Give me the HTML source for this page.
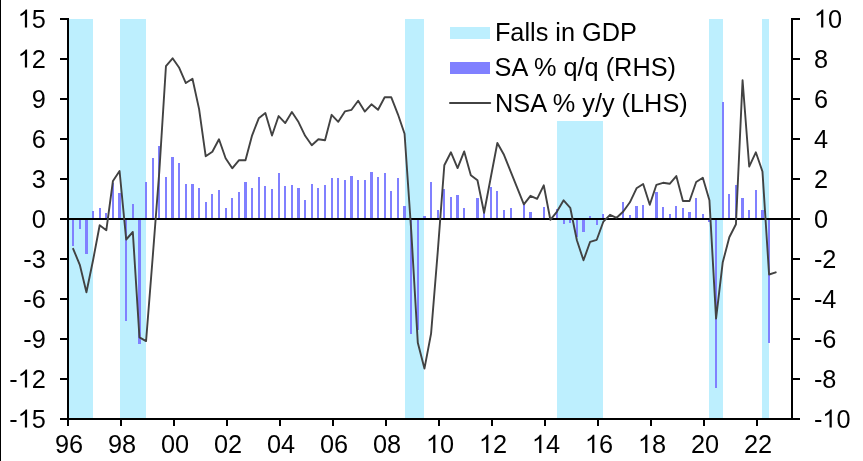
<!DOCTYPE html>
<html><head><meta charset="utf-8"><title>chart</title>
<style>
html,body{margin:0;padding:0;background:#fff;}
body{width:863px;height:461px;overflow:hidden;}
svg{display:block;will-change:transform;}
text{font-family:"Liberation Sans",sans-serif;font-size:25.3px;fill:#000;}
</style></head><body>
<svg width="863" height="461" viewBox="0 0 863 461">
<rect x="0" y="0" width="863" height="461" fill="#fff"/>
<g fill="#bdeffe" shape-rendering="crispEdges">
<rect x="69" y="19" width="24" height="400"/>
<rect x="120" y="19" width="26" height="400"/>
<rect x="405" y="19" width="19" height="400"/>
<rect x="557" y="121" width="46" height="298"/>
<rect x="709" y="19" width="14" height="400"/>
<rect x="762" y="19" width="7" height="400"/>
</g>
<g fill="#8080ff" shape-rendering="crispEdges">
<rect x="72" y="219" width="2" height="27"/>
<rect x="79" y="219" width="2" height="10"/>
<rect x="85" y="219" width="3" height="35"/>
<rect x="92" y="211" width="2" height="8"/>
<rect x="99" y="208" width="2" height="11"/>
<rect x="105" y="213" width="2" height="6"/>
<rect x="112" y="183" width="2" height="36"/>
<rect x="118" y="193" width="3" height="26"/>
<rect x="125" y="219" width="2" height="102"/>
<rect x="132" y="204" width="2" height="15"/>
<rect x="138" y="219" width="3" height="125"/>
<rect x="145" y="182" width="2" height="37"/>
<rect x="152" y="158" width="2" height="61"/>
<rect x="158" y="146" width="2" height="73"/>
<rect x="165" y="177" width="2" height="42"/>
<rect x="171" y="157" width="3" height="62"/>
<rect x="178" y="163" width="2" height="56"/>
<rect x="185" y="184" width="2" height="35"/>
<rect x="191" y="184" width="3" height="35"/>
<rect x="198" y="188" width="2" height="31"/>
<rect x="205" y="202" width="2" height="17"/>
<rect x="211" y="194" width="2" height="25"/>
<rect x="218" y="190" width="2" height="29"/>
<rect x="225" y="208" width="2" height="11"/>
<rect x="231" y="198" width="2" height="21"/>
<rect x="238" y="192" width="2" height="27"/>
<rect x="244" y="182" width="3" height="37"/>
<rect x="251" y="188" width="2" height="31"/>
<rect x="258" y="177" width="2" height="42"/>
<rect x="264" y="186" width="2" height="33"/>
<rect x="271" y="189" width="2" height="30"/>
<rect x="278" y="173" width="2" height="46"/>
<rect x="284" y="186" width="2" height="33"/>
<rect x="291" y="185" width="2" height="34"/>
<rect x="297" y="188" width="3" height="31"/>
<rect x="304" y="200" width="2" height="19"/>
<rect x="311" y="184" width="2" height="35"/>
<rect x="317" y="188" width="2" height="31"/>
<rect x="324" y="185" width="2" height="34"/>
<rect x="331" y="178" width="2" height="41"/>
<rect x="337" y="178" width="2" height="41"/>
<rect x="344" y="180" width="2" height="39"/>
<rect x="350" y="176" width="3" height="43"/>
<rect x="357" y="180" width="2" height="39"/>
<rect x="364" y="180" width="2" height="39"/>
<rect x="370" y="172" width="3" height="47"/>
<rect x="377" y="177" width="2" height="42"/>
<rect x="384" y="173" width="2" height="46"/>
<rect x="390" y="191" width="2" height="28"/>
<rect x="397" y="178" width="2" height="41"/>
<rect x="403" y="206" width="3" height="13"/>
<rect x="410" y="219" width="2" height="115"/>
<rect x="417" y="219" width="2" height="111"/>
<rect x="423" y="216" width="3" height="3"/>
<rect x="430" y="182" width="2" height="37"/>
<rect x="437" y="210" width="2" height="9"/>
<rect x="443" y="189" width="2" height="30"/>
<rect x="450" y="197" width="2" height="22"/>
<rect x="456" y="195" width="3" height="24"/>
<rect x="463" y="208" width="2" height="11"/>
<rect x="476" y="198" width="3" height="21"/>
<rect x="483" y="212" width="2" height="7"/>
<rect x="490" y="187" width="2" height="32"/>
<rect x="496" y="191" width="2" height="28"/>
<rect x="503" y="210" width="2" height="9"/>
<rect x="510" y="208" width="2" height="11"/>
<rect x="523" y="204" width="2" height="15"/>
<rect x="529" y="212" width="3" height="7"/>
<rect x="543" y="207" width="2" height="12"/>
<rect x="556" y="209" width="2" height="10"/>
<rect x="563" y="219" width="2" height="5"/>
<rect x="569" y="219" width="2" height="4"/>
<rect x="576" y="219" width="2" height="18"/>
<rect x="582" y="219" width="3" height="13"/>
<rect x="589" y="216" width="2" height="3"/>
<rect x="596" y="219" width="2" height="6"/>
<rect x="602" y="214" width="2" height="5"/>
<rect x="622" y="202" width="2" height="17"/>
<rect x="629" y="215" width="2" height="4"/>
<rect x="635" y="206" width="3" height="13"/>
<rect x="642" y="205" width="2" height="14"/>
<rect x="655" y="192" width="3" height="27"/>
<rect x="662" y="207" width="2" height="12"/>
<rect x="669" y="214" width="2" height="5"/>
<rect x="675" y="206" width="2" height="13"/>
<rect x="682" y="208" width="2" height="11"/>
<rect x="688" y="212" width="3" height="7"/>
<rect x="695" y="198" width="2" height="21"/>
<rect x="702" y="214" width="2" height="5"/>
<rect x="708" y="219" width="3" height="3"/>
<rect x="715" y="219" width="2" height="169"/>
<rect x="722" y="102" width="2" height="117"/>
<rect x="728" y="194" width="2" height="25"/>
<rect x="735" y="185" width="2" height="34"/>
<rect x="741" y="198" width="3" height="21"/>
<rect x="748" y="210" width="2" height="9"/>
<rect x="755" y="190" width="2" height="29"/>
<rect x="761" y="210" width="3" height="9"/>
<rect x="768" y="219" width="2" height="124"/>
</g>
<rect x="60" y="218" width="740" height="2" fill="#000" shape-rendering="crispEdges"/>
<polyline points="73.17,248.80 79.80,264.80 86.43,292.30 93.05,260.30 99.68,225.30 106.31,230.30 112.94,181.00 119.56,171.00 126.19,239.50 132.82,232.00 139.45,337.30 146.08,341.05 152.70,257.30 159.33,171.30 165.96,66.05 172.59,58.30 179.21,67.80 185.84,83.05 192.47,78.80 199.10,109.10 205.72,156.30 212.35,151.80 218.98,139.30 225.61,158.30 232.24,168.30 238.86,160.30 245.49,160.30 252.12,135.30 258.75,118.30 265.37,113.05 272.00,135.55 278.63,116.05 285.26,123.05 291.89,112.05 298.51,122.05 305.14,135.80 311.77,145.30 318.40,139.30 325.02,140.30 331.65,114.80 338.28,121.80 344.91,111.40 351.54,109.80 358.16,100.80 364.79,111.55 371.42,104.30 378.05,109.80 384.67,97.30 391.30,97.30 397.93,114.30 404.56,133.80 411.19,230.30 417.81,342.80 424.44,368.60 431.07,333.60 437.70,252.30 444.32,165.30 450.95,152.30 457.58,168.05 464.21,151.40 470.83,175.30 477.46,180.30 484.09,212.80 490.72,177.80 497.35,143.00 503.97,154.80 510.60,171.30 517.23,187.80 523.86,204.30 530.48,195.80 537.11,198.80 543.74,185.30 550.37,219.80 557.00,211.55 563.62,200.30 570.25,207.80 576.88,240.30 583.51,260.30 590.13,241.80 596.76,239.80 603.39,221.55 610.02,214.80 616.65,217.80 623.27,211.55 629.90,202.30 636.53,188.30 643.16,184.05 649.78,204.80 656.41,184.80 663.04,182.80 669.67,183.80 676.30,176.05 682.92,201.05 689.55,201.05 696.18,182.05 702.81,177.80 709.43,200.30 716.06,318.60 722.69,262.60 729.32,237.20 735.94,224.30 742.57,80.30 749.20,166.55 755.83,152.30 762.46,171.55 769.08,274.50 775.71,272.30" fill="none" stroke="#424242" stroke-width="1.9" stroke-linejoin="round" stroke-linecap="round"/>
<g fill="#000" shape-rendering="crispEdges">
<rect x="67" y="18" width="2" height="402"/>
<rect x="791" y="18" width="2" height="402"/>
<rect x="60" y="418" width="740" height="2"/>
<rect x="60" y="18" width="8" height="2"/>
<rect x="792" y="18" width="8" height="2"/>
<rect x="60" y="58" width="8" height="2"/>
<rect x="792" y="58" width="8" height="2"/>
<rect x="60" y="98" width="8" height="2"/>
<rect x="792" y="98" width="8" height="2"/>
<rect x="60" y="138" width="8" height="2"/>
<rect x="792" y="138" width="8" height="2"/>
<rect x="60" y="178" width="8" height="2"/>
<rect x="792" y="178" width="8" height="2"/>
<rect x="60" y="258" width="8" height="2"/>
<rect x="792" y="258" width="8" height="2"/>
<rect x="60" y="298" width="8" height="2"/>
<rect x="792" y="298" width="8" height="2"/>
<rect x="60" y="338" width="8" height="2"/>
<rect x="792" y="338" width="8" height="2"/>
<rect x="60" y="378" width="8" height="2"/>
<rect x="792" y="378" width="8" height="2"/>
<rect x="67" y="419" width="2" height="7"/>
<rect x="120" y="419" width="2" height="7"/>
<rect x="173" y="419" width="2" height="7"/>
<rect x="226" y="419" width="2" height="7"/>
<rect x="279" y="419" width="2" height="7"/>
<rect x="332" y="419" width="2" height="7"/>
<rect x="385" y="419" width="2" height="7"/>
<rect x="438" y="419" width="2" height="7"/>
<rect x="491" y="419" width="2" height="7"/>
<rect x="544" y="419" width="2" height="7"/>
<rect x="597" y="419" width="2" height="7"/>
<rect x="650" y="419" width="2" height="7"/>
<rect x="703" y="419" width="2" height="7"/>
<rect x="756" y="419" width="2" height="7"/>
<rect x="0" y="0" width="1" height="461"/>
</g>
<path transform="translate(17.67,27.6) scale(0.012354,-0.012354)" d="M763 0H583V1147Q518 1085 412.5 1023T223 930V1104Q374 1175 487 1276T647 1472H763Z"/>
<text x="31.73" y="27.6">5</text>
<path transform="translate(813.90,27.6) scale(0.012354,-0.012354)" d="M763 0H583V1147Q518 1085 412.5 1023T223 930V1104Q374 1175 487 1276T647 1472H763Z"/>
<text x="827.97" y="27.6">0</text>
<path transform="translate(17.67,67.6) scale(0.012354,-0.012354)" d="M763 0H583V1147Q518 1085 412.5 1023T223 930V1104Q374 1175 487 1276T647 1472H763Z"/>
<text x="31.73" y="67.6">2</text>
<text x="813.90" y="67.6">8</text>
<text x="31.73" y="107.6">9</text>
<text x="813.90" y="107.6">6</text>
<text x="31.73" y="147.6">6</text>
<text x="813.90" y="147.6">4</text>
<text x="31.73" y="187.6">3</text>
<text x="813.90" y="187.6">2</text>
<text x="31.73" y="227.6">0</text>
<text x="813.90" y="227.6">0</text>
<text x="23.31" y="267.6">-3</text>
<text x="813.90" y="267.6">-2</text>
<text x="23.31" y="307.6">-6</text>
<text x="813.90" y="307.6">-4</text>
<text x="23.31" y="347.6">-9</text>
<text x="813.90" y="347.6">-6</text>
<text x="9.24" y="387.6">-</text>
<path transform="translate(17.67,387.6) scale(0.012354,-0.012354)" d="M763 0H583V1147Q518 1085 412.5 1023T223 930V1104Q374 1175 487 1276T647 1472H763Z"/>
<text x="31.73" y="387.6">2</text>
<text x="813.90" y="387.6">-8</text>
<text x="9.24" y="427.6">-</text>
<path transform="translate(17.67,427.6) scale(0.012354,-0.012354)" d="M763 0H583V1147Q518 1085 412.5 1023T223 930V1104Q374 1175 487 1276T647 1472H763Z"/>
<text x="31.73" y="427.6">5</text>
<text x="813.90" y="427.6">-</text>
<path transform="translate(822.32,427.6) scale(0.012354,-0.012354)" d="M763 0H583V1147Q518 1085 412.5 1023T223 930V1104Q374 1175 487 1276T647 1472H763Z"/>
<text x="836.39" y="427.6">0</text>
<text x="54.93" y="452.9">96</text>
<text x="107.93" y="452.9">98</text>
<text x="160.93" y="452.9">00</text>
<text x="213.93" y="452.9">02</text>
<text x="266.93" y="452.9">04</text>
<text x="319.93" y="452.9">06</text>
<text x="372.93" y="452.9">08</text>
<path transform="translate(425.93,452.9) scale(0.012354,-0.012354)" d="M763 0H583V1147Q518 1085 412.5 1023T223 930V1104Q374 1175 487 1276T647 1472H763Z"/>
<text x="440.00" y="452.9">0</text>
<path transform="translate(478.93,452.9) scale(0.012354,-0.012354)" d="M763 0H583V1147Q518 1085 412.5 1023T223 930V1104Q374 1175 487 1276T647 1472H763Z"/>
<text x="493.00" y="452.9">2</text>
<path transform="translate(531.93,452.9) scale(0.012354,-0.012354)" d="M763 0H583V1147Q518 1085 412.5 1023T223 930V1104Q374 1175 487 1276T647 1472H763Z"/>
<text x="546.00" y="452.9">4</text>
<path transform="translate(584.93,452.9) scale(0.012354,-0.012354)" d="M763 0H583V1147Q518 1085 412.5 1023T223 930V1104Q374 1175 487 1276T647 1472H763Z"/>
<text x="599.00" y="452.9">6</text>
<path transform="translate(637.93,452.9) scale(0.012354,-0.012354)" d="M763 0H583V1147Q518 1085 412.5 1023T223 930V1104Q374 1175 487 1276T647 1472H763Z"/>
<text x="652.00" y="452.9">8</text>
<text x="690.93" y="452.9">20</text>
<text x="743.93" y="452.9">22</text>
<rect x="440" y="8" width="262" height="113" fill="#fff"/>
<rect x="450" y="27" width="40" height="12" fill="#bdeffe" shape-rendering="crispEdges"/>
<rect x="450" y="62" width="40" height="12" fill="#8080ff" shape-rendering="crispEdges"/>
<line x1="450" y1="103" x2="490.2" y2="103" stroke="#424242" stroke-width="2" stroke-linecap="round"/>
<text x="494.9" y="40.6">Falls in GDP</text>
<text x="494.6" y="76.4">SA % q/q (RHS)</text>
<text x="495.1" y="111.8">NSA % y/y (LHS)</text>
</svg>
</body></html>
